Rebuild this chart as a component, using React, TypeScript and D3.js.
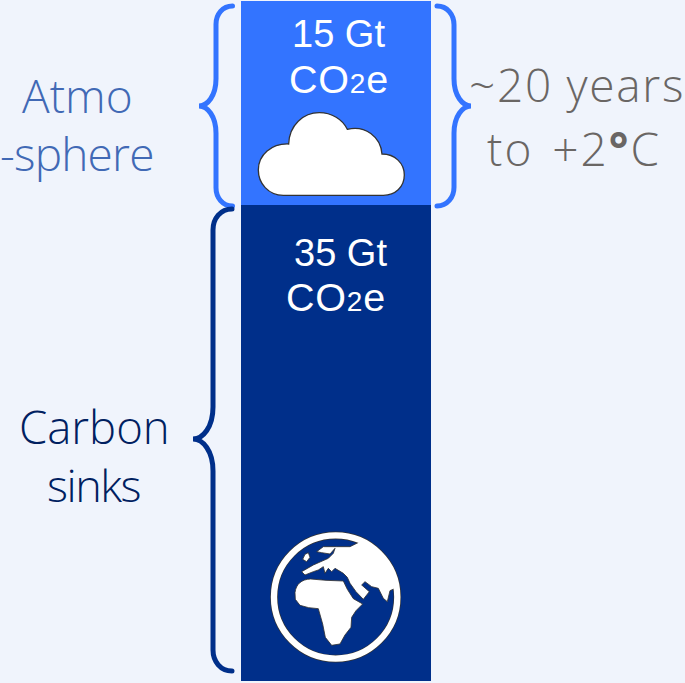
import React from "react";
import * as d3 from "d3";

const categories = ["Carbon sinks", "Atmosphere"];
const values = [35, 15];
const valueLabels = ["35 Gt", "15 Gt"];
const barColors = ["#002f8a", "#3374ff"];

const W = 685;
const H = 683;
const BG = "#f0f4fc";
const LIGHT = "'Open Sans', sans-serif";
const ARIAL = "'Liberation Sans', Arial, sans-serif";

// curly brace, xv = spine, xt = tip, xe = where the two ends stop
const brace = (xe: number, xv: number, xt: number, y0: number, y1: number, ym: number) => {
  const s = xv > xe ? 1 : -1;
  const r = Math.abs(xv - xe);
  const t = Math.abs(xt - xv);
  const p = d3.path();
  p.moveTo(xe, y0);
  p.bezierCurveTo(xv - s * r * 0.4, y0, xv, y0 + r * 0.5, xv, y0 + r * 1.1);
  p.lineTo(xv, ym - t * 1.6);
  p.bezierCurveTo(xv, ym - t * 0.6, xt + (xv - xt) * 0.5, ym, xt, ym);
  p.bezierCurveTo(xt + (xv - xt) * 0.5, ym, xv, ym + t * 0.6, xv, ym + t * 1.6);
  p.lineTo(xv, y1 - r * 1.1);
  p.bezierCurveTo(xv, y1 - r * 0.5, xv - s * r * 0.4, y1, xe, y1);
  return p.toString();
};

const Co2 = ({ x, y }: { x: number; y: number }) => (
  <text x={x} y={y} fill="#fff" fontFamily={ARIAL} fontSize={39.5} letterSpacing={0.8}>
    CO<tspan fontSize={28}>2</tspan>e
  </text>
);

export default function App() {
  const y = d3.scaleLinear().domain([0, 50]).range([681, 1]);
  const stack = d3.stack<number[]>().keys(["0", "1"])([values] as any);
  const x0 = 241;
  const x1 = 431;
  const split = y(values[0]);

  return (
    <svg width={W} height={H} style={{ position: "fixed", left: 0, top: 0, background: BG }}>
      <rect width={W} height={H} fill={BG} />
      {stack.map((s, i) => (
        <rect
          key={categories[i]}
          x={x0}
          width={x1 - x0}
          y={y(s[0][1])}
          height={y(s[0][0]) - y(s[0][1])}
          fill={barColors[i]}
        />
      ))}

      <path d={brace(232.5, 216, 199, y(50) + 5, split + 1, 106)} fill="none" stroke={barColors[1]} strokeWidth={5} strokeLinecap="round" />
      <path d={brace(437, 454, 471, y(50) + 5, split + 1, 106)} fill="none" stroke={barColors[1]} strokeWidth={5} strokeLinecap="round" />
      <path d={brace(232, 213, 193, split + 4, y(0) - 10, 439)} fill="none" stroke={barColors[0]} strokeWidth={5} strokeLinecap="round" />

      <text x={338.5} y={47} textAnchor="middle" fill="#fff" fontFamily={ARIAL} fontSize={38}>{valueLabels[1]}</text>
      <Co2 x={289} y={92.5} />
      <text x={340.5} y={266} textAnchor="middle" fill="#fff" fontFamily={ARIAL} fontSize={38}>{valueLabels[0]}</text>
      <Co2 x={286} y={311} />

      {/* cloud, drawn in 3x zoom units */}
      <g transform="translate(190,0) scale(0.3333)">
        <path
          d="M280,586 C235,586 205,550 205,510 C205,465 245,430 296,432 C298,375 340,338 388,338 C425,338 458,358 472,388 C525,375 572,410 576,462 C615,462 643,490 643,525 C643,562 615,586 580,586 Z"
          fill="#fff"
          stroke="#333"
          strokeWidth={4}
        />
      </g>

      {/* globe, drawn in 3x zoom units */}
      <g transform="translate(250,520) scale(0.3333)" fill="#fff" stroke="#333" strokeWidth={2.5}>
        <clipPath id="globe-clip">
          <circle cx={257} cy={231} r={182} />
        </clipPath>
        <circle cx={257} cy={231} r={185} fill="none" stroke="#333" strokeWidth={23} />
        <g clipPath="url(#globe-clip)">
          <path d="M135,218 C138,192 155,178 182,177 L228,181 L280,183 L292,208 L310,236 L338,252 L318,272 L305,292 L303,322 L285,345 L270,372 L245,376 L226,352 L218,312 L205,266 L176,263 L150,256 L136,238 Z" />
          <path d="M330,65 L400,60 L480,200 L436,205 L420,212 L412,245 L400,235 L385,205 L365,200 L345,185 L335,195 L358,215 L340,238 L318,215 L300,190 L292,172 L280,160 L255,145 L245,155 L235,145 L225,160 L220,140 L205,150 L190,155 L165,165 L155,155 L190,135 L235,115 L250,100 L255,85 L240,102 L215,98 L200,95 L220,80 L260,80 L300,80 Z" />
          <path d="M165,103 L175,98 L180,112 L170,125 L158,118 Z" />
        </g>
        <circle cx={257} cy={231} r={185} fill="none" stroke="#fff" strokeWidth={19} />
      </g>

      <g fontFamily={LIGHT} fontWeight={300}>
        <text x={22} y={113} fontSize={46} fill="#4169b5">Atmo</text>
        <text x={0} y={171} fontSize={46} fill="#4169b5" letterSpacing={-0.8}>-sphere</text>
        <text x={19} y={444} fontSize={45.5} fill="#002060">Carbon</text>
        <text x={47} y={502} fontSize={45} fill="#002060" letterSpacing={-1.5}>sinks</text>
        <text x={469} y={102} fontSize={46} fill="#6a6664" letterSpacing={1.7}>~20 years</text>
        <text x={487} y={166} fontSize={46} fill="#6a6664" letterSpacing={2} wordSpacing={5}>
          to +2<tspan fontWeight={700}>°</tspan>C
        </text>
      </g>
    </svg>
  );
}
